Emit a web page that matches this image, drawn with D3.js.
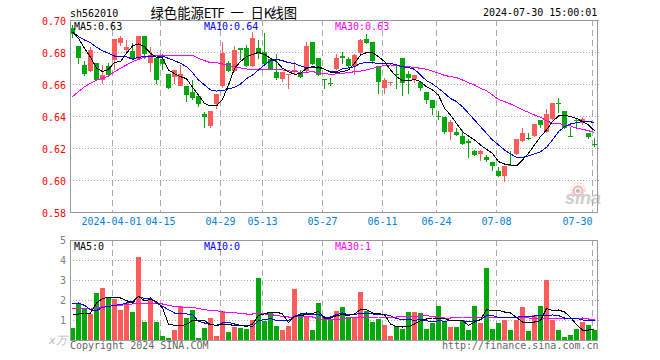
<!DOCTYPE html>
<html>
<head>
<meta charset="utf-8">
<script src="https://cdn.jsdelivr.net/npm/d3@7"></script>
<style>
  html, body { margin: 0; padding: 0; background: #fff; overflow: hidden; }
  svg { display: block; }
  text { font-family: "DejaVu Sans Mono", monospace; font-size: 10px; }
</style>
</head>
<body>
<svg id="chart"></svg>
<script>
// daily candles, oldest first
const open = [.695,.684,.672,.668,.673,.6625,.6715,.675,.6855,.681,.6805,.6755,.690,.673,.676,.6755,.666,.6645,.659,.659,.655,.6525,.641,.634,.6475,.659,.673,.668,.6825,.6825,
  .671,.6825,.680,.6755,.6675,.663,.6655,.6675,.6675,.668,.686,.676,.663,.6605,.6695,.6775,.6755,.671,.6795,.688,.686,.671,.6575,.6605,.6663,.676,.666,.663,.661,.655,
  .650,.640,.6394,.630,.630,.6275,.6245,.618,.6163,.6145,.611,.6056,.6025,.6095,.6163,.6244,.6263,.6275,.6375,.630,.638,.648,.6431,.6275,.6375,.6354,.6294,.6225];
const close = [.691,.676,.666,.681,.6625,.6655,.6655,.688,.689,.683,.6755,.690,.679,.678,.6625,.6725,.6575,.669,.666,.653,.651,.6475,.6395,.643,.654,.6795,.668,.681,.681,.671,
  .689,.679,.6725,.669,.664,.6675,.666,.669,.6645,.684,.6725,.6655,.6628,.660,.676,.676,.671,.678,.6875,.6855,.6745,.661,.6625,.661,.6658,.6605,.664,.6655,.6575,.650,
  .645,.6395,.630,.636,.628,.6225,.623,.6155,.618,.6125,.609,.6025,.609,.609,.6256,.6294,.626,.635,.6344,.6413,.648,.6475,.6325,.627,.637,.6381,.6269,.622];
const high = [.697,.684,.6745,.683,.673,.672,.673,.688,.690,.6875,.6855,.690,.690,.683,.676,.679,.666,.669,.672,.659,.6625,.6525,.6425,.643,.654,.686,.6745,.684,.6825,.6845,
  .6925,.6875,.692,.676,.679,.6675,.666,.674,.669,.686,.686,.676,.663,.664,.679,.680,.677,.6785,.688,.691,.686,.671,.664,.661,.6719,.676,.668,.6655,.661,.655,
  .650,.643,.6394,.6375,.6325,.631,.6255,.619,.619,.6156,.611,.608,.609,.618,.6256,.6325,.6294,.635,.6375,.6444,.648,.651,.6431,.6331,.638,.6394,.6294,.6263];
const low = [.689,.6725,.665,.6675,.662,.660,.665,.669,.684,.679,.675,.675,.6755,.6675,.660,.669,.657,.660,.6585,.649,.650,.6455,.6325,.6325,.6445,.6575,.6675,.6675,.675,.6705,
  .6705,.6755,.671,.66875,.6625,.661,.657,.666,.6635,.6675,.672,.665,.657,.659,.669,.6725,.6705,.6655,.679,.685,.6725,.654,.654,.659,.6569,.6525,.654,.6605,.6555,.6475,
  .6405,.6375,.6288,.625,.6275,.622,.6138,.615,.612,.611,.6056,.6019,.5988,.609,.6156,.6238,.625,.6269,.6325,.6294,.6375,.6419,.6319,.6269,.6319,.6344,.6256,.6206];
const ma5 = [.6927,.6885,.6823,.6767,.67,.6677,.6692,.6735,.674,.6792,.6838,.685,.6833,.6792,.6767,.6765,.6688,.6665,.6646,.6633,.6579,.6531,.6479,.6463,.6463,.6504,.6594,.6698,.674,.6771,
  .6785,.6798,.6785,.676,.674,.6698,.6677,.666,.6667,.6698,.6708,.6704,.6692,.6673,.6671,.6677,.6688,.6729,.6781,.6796,.6796,.6771,.674,.6688,.6646,.6621,.6619,.6629,.6615,.6583,
  .6563,.6531,.6448,.6406,.6354,.6302,.6275,.625,.6219,.6192,.6167,.6115,.61,.6094,.6088,.6125,.6167,.6219,.6271,.6313,.6365,.64,.6406,.6396,.6385,.6365,.6344,.6308];
const ma10 = [.6925,.6896,.6875,.6858,.6829,.6808,.6792,.6775,.6775,.6771,.6754,.6767,.6771,.6771,.6775,.6775,.676,.6746,.6729,.6708,.6671,.6625,.6594,.6563,.6556,.6558,.6569,.6579,.66,.6633,
  .6656,.6688,.6719,.6746,.6754,.6746,.6733,.6729,.6713,.6702,.6702,.6708,.6692,.6677,.6677,.6694,.67,.6708,.6729,.6735,.6733,.6729,.6729,.6729,.6719,.6708,.6702,.6692,.6656,.6621,
  .66,.6573,.6542,.651,.649,.6458,.6417,.6375,.6333,.6292,.625,.6219,.6188,.6163,.6142,.6142,.615,.6163,.6177,.6204,.625,.6302,.6333,.635,.6358,.6365,.6365,.636];
const ma30 = [.6521,.6552,.6583,.6604,.6625,.6635,.665,.6677,.6698,.6719,.674,.6754,.6767,.6775,.6777,.6779,.6779,.6779,.6779,.6779,.6779,.676,.6746,.6733,.6733,.6725,.6715,.6708,.67,.6694,
  .6692,.6692,.6692,.6692,.6692,.6688,.6683,.6677,.6673,.6673,.6677,.6671,.6665,.666,.6663,.6667,.6671,.6677,.6681,.6688,.6698,.6708,.6715,.6719,.6715,.6708,.6708,.6704,.6698,.6692,
  .6681,.6667,.6654,.6646,.664,.6625,.6608,.6594,.6573,.6558,.6531,.6504,.649,.6475,.6458,.6438,.6423,.6406,.6392,.6371,.6354,.6354,.6344,.6338,.6323,.6317,.6308,.6298];

// volume pane, in units of 万
const volume = [.62,1.87,1.57,1.32,2.37,2.62,2.17,2.07,1.52,1.87,1.42,4.17,.92,2.02,.92,.22,.12,.52,1.72,1.12,1.52,.12,.62,1.12,.22,1.47,.42,.67,.62,.57,
  1.02,3.12,.97,1.37,.72,.52,.72,2.57,1.32,1.17,.52,1.87,1.17,1.02,1.47,1.67,1.17,1.17,2.42,1.47,.92,1.07,.77,.22,.72,.57,1.42,1.42,1.37,.57,
  .87,1.72,.92,.67,.67,1.02,.52,1.72,.87,3.62,.57,.87,1.02,.52,1.02,1.67,.47,1.27,1.72,3.02,1.02,.52,.17,.27,.57,.92,.77,.52];
const volMa5 = [1.3,1.3,1.35,1.35,1.85,2.07,2.15,2.15,2.1,1.97,1.85,2.18,1.97,2.02,1.93,1.6,.8,.73,.72,.77,.98,.98,.97,.77,.73,.77,.77,.73,.73,.68,
  .8,1.23,1.3,1.4,1.4,1.3,.88,1.18,1.23,1.27,1.32,1.43,1.1,1.1,1.22,1.27,1.23,1.3,1.52,1.52,1.35,1.32,1.27,.8,.67,.65,.67,.8,.97,1.05,
  1.1,1.1,1.07,.97,.97,.97,.73,.9,1.02,1.52,1.47,1.48,1.4,1.35,1.13,.9,.9,.9,.97,1.57,1.47,1.5,1.4,1.13,.77,.5,.5,.52];
const volMa10 = [1.8,1.85,1.73,1.52,1.47,1.63,1.67,1.73,1.77,1.85,1.93,2.18,2.07,2.1,1.85,1.68,1.52,1.35,1.35,1.3,1.27,.93,.85,.77,.73,.85,.88,.8,.73,.73,
  .68,.97,1.02,1.07,.97,.97,.97,1.18,1.3,1.35,1.27,1.27,1.15,1.15,1.27,1.35,1.27,1.27,1.35,1.35,1.3,1.27,1.27,1.22,1.07,1.02,1.02,.98,1.02,.97,
  .9,.97,.93,.97,.97,.97,.9,.97,1,1.23,1.22,1.13,1.13,1.13,1.13,1.2,1.2,1.2,1.22,1.23,1.25,1.22,1.1,1.1,1.08,1,.97,.97];
const volMa30 = [1.57,1.6,1.57,1.6,1.6,1.67,1.7,1.73,1.73,1.77,1.8,1.85,1.85,1.85,1.85,1.8,1.73,1.68,1.65,1.65,1.65,1.57,1.52,1.47,1.47,1.4,1.38,1.37,1.32,1.3,
  1.3,1.35,1.3,1.27,1.23,1.18,1.15,1.15,1.18,1.18,1.15,1.05,1.02,1,1.02,1.05,1.1,1.13,1.15,1.13,1.1,1.15,1.15,1.15,1.15,1.17,1.18,1.18,1.2,1.22,
  1.17,1.13,1.1,1.1,1.12,1.15,1.15,1.1,1.12,1.15,1.15,1.15,1.13,1.13,1.1,1.12,1.1,1.07,1.07,1.1,1.1,1.07,1.05,1.07,1.07,1.1,1.05,1.05];

const dateIndex = [7, 15, 25, 32, 42, 52, 61, 71, 87];
const dateLabels = ['2024-04-01', '04-15', '04-29', '05-13', '05-27', '06-11', '06-24', '07-08', '07-30'];
const priceTicks = [0.58, 0.60, 0.62, 0.64, 0.66, 0.68, 0.70];
const volumeTicks = [1, 2, 3, 4, 5];

const width = 660;
const height = 360;
const RED = '#ff5b5b';
const GREEN = '#00a80a';
const GRID = '#aaaaaa';

const svg = d3.select('#chart').attr('width', width).attr('height', height);

const x = d3.scaleLinear().domain([0, 88]).range([70, 598]);
const y = d3.scaleLinear().domain([0.58, 0.70]).range([212, 20]);
const yVol = d3.scaleLinear().domain([0, 5]).range([340, 240]);
const mid = i => x(i) + 2.5;

// sina watermark sits under everything
const logo = svg.append('g').attr('opacity', 0.75);
logo.append('circle').attr('cx', 578).attr('cy', 191).attr('r', 4.5)
  .attr('fill', 'none').attr('stroke', '#f4a6a6').attr('stroke-width', 2.5);
logo.append('circle').attr('cx', 578).attr('cy', 190).attr('r', 7)
  .attr('fill', 'none').attr('stroke', '#f4a6a6').attr('stroke-dasharray', '2,1.5');
logo.append('circle').attr('cx', 578).attr('cy', 191).attr('r', 2).attr('fill', '#999');
logo.append('text').attr('x', 565).attr('y', 204)
  .style('font-family', '"Liberation Sans"').style('font-size', '18px')
  .style('font-weight', 'bold').style('font-style', 'italic')
  .attr('fill', '#bdbdbd').text('sina');

// grid lines, both panes
const grid = svg.append('g').attr('shape-rendering', 'crispEdges');
grid.selectAll('.price-grid').data(priceTicks.slice(1, -1).concat([0.70]))
  .enter().append('line')
  .attr('x1', 70).attr('x2', 600)
  .attr('y1', d => y(d) + 0.5).attr('y2', d => y(d) + 0.5)
  .attr('stroke', GRID).attr('stroke-dasharray', '1,2');
grid.selectAll('.vol-grid').data(volumeTicks.slice(0, -1))
  .enter().append('line')
  .attr('x1', 70).attr('x2', 600)
  .attr('y1', d => yVol(d) + 0.5).attr('y2', d => yVol(d) + 0.5)
  .attr('stroke', GRID).attr('stroke-dasharray', '1,2');
[[20, 212], [240, 340]].forEach(pane => {
  grid.selectAll(null).data(dateIndex)
    .enter().append('line')
    .attr('x1', d => x(d) + 0.5).attr('x2', d => x(d) + 0.5)
    .attr('y1', pane[0]).attr('y2', pane[1])
    .attr('stroke', GRID).attr('stroke-dasharray', '6,4');
});

// candles
const candles = svg.append('g').attr('shape-rendering', 'crispEdges');
const isUp = i => close[i] >= open[i];
candles.selectAll('.wick').data(d3.range(open.length))
  .enter().append('line')
  .attr('x1', mid).attr('x2', mid)
  .attr('y1', i => y(high[i])).attr('y2', i => y(low[i]))
  .attr('stroke', i => isUp(i) ? RED : GREEN);
candles.selectAll('.body').data(d3.range(open.length))
  .enter().append('rect')
  .attr('x', i => x(i)).attr('width', 5)
  .attr('y', i => y(Math.max(open[i], close[i])))
  .attr('height', i => Math.max(1, Math.abs(y(open[i]) - y(close[i]))))
  .attr('fill', i => isUp(i) ? RED : GREEN);

// volume bars
svg.append('g').attr('shape-rendering', 'crispEdges')
  .selectAll('rect').data(volume)
  .enter().append('rect')
  .attr('x', (d, i) => x(i)).attr('width', 5)
  .attr('y', d => yVol(d))
  .attr('height', d => yVol(0) - yVol(d) + 1)
  .attr('fill', (d, i) => isUp(i) ? RED : GREEN);

// moving averages
const priceLine = d3.line().x((d, i) => mid(i)).y(d => y(d));
const volLine = d3.line().x((d, i) => mid(i)).y(d => yVol(d));
const maLines = svg.append('g').attr('fill', 'none').attr('shape-rendering', 'crispEdges');
[[ma30, '#ff00ff'], [ma10, '#0000ff'], [ma5, '#000000']].forEach(s => {
  maLines.append('path').attr('d', priceLine(s[0])).attr('stroke', s[1]);
});
[[volMa30, '#ff00ff'], [volMa10, '#0000ff'], [volMa5, '#000000']].forEach(s => {
  maLines.append('path').attr('d', volLine(s[0])).attr('stroke', s[1]);
});

// frames
svg.append('g').attr('shape-rendering', 'crispEdges').attr('fill', 'none').attr('stroke', '#999')
  .selectAll('rect').data([[20, 212], [240, 340]])
  .enter().append('rect')
  .attr('x', 70.5).attr('width', 527)
  .attr('y', d => d[0] + 0.5).attr('height', d => d[1] - d[0]);

// axes
const yAxis = d3.axisLeft(y).tickValues(priceTicks).tickSize(0).tickPadding(4).tickFormat(d3.format('.2f'));
const gy = svg.append('g').attr('transform', 'translate(70,1)').call(yAxis);
gy.select('.domain').remove();
gy.selectAll('text').attr('fill', '#ff0000');

const volAxis = d3.axisLeft(yVol).tickValues(volumeTicks).tickSize(0).tickPadding(4).tickFormat(d3.format('d'));
const gv = svg.append('g').attr('transform', 'translate(70,0)').call(volAxis);
gv.select('.domain').remove();
gv.selectAll('text').attr('fill', '#808080');

const xAxis = d3.axisBottom(x).tickValues(dateIndex).tickSize(0).tickPadding(0)
  .tickFormat((d, i) => dateLabels[i]);
const gx = svg.append('g').attr('transform', 'translate(0,218)').call(xAxis);
gx.select('.domain').remove();
gx.selectAll('text').attr('fill', '#0080e0');
gx.selectAll('text').filter((d, i) => i === 0).attr('dx', -1);
gx.selectAll('text').filter((d, i) => i === dateLabels.length - 1)
  .attr('text-anchor', 'end');

// labels
const labels = [
  ['sh562010', 70, 17, '#000'],
  ['2024-07-30 15:00:01', 483, 16, '#000'],
  ['MA5:0.63', 74, 30, '#000'],
  ['MA10:0.64', 204, 30, '#0000ff'],
  ['MA30:0.63', 335, 30, '#ff00ff'],
  ['MA5:0', 74, 250, '#000'],
  ['MA10:0', 204, 250, '#0000ff'],
  ['MA30:1', 335, 250, '#ff00ff'],
  ['Copyright 2024 SINA.COM', 70, 349, '#666'],
  ['http://finance.sina.com.cn', 442, 349, '#666']
];
svg.selectAll('.label').data(labels)
  .enter().append('text')
  .attr('x', d => d[1]).attr('y', d => d[2]).attr('fill', d => d[3])
  .text(d => d[0]);

// title uses full width CJK cells and half width latin cells
const titleChars = Array.from('绿色能源ETF 一 日K线图');
const titleCell = 13.33;
let titleX = 150.5;
const titleXs = titleChars.map(c => {
  const at = titleX;
  titleX += c.charCodeAt(0) < 128 ? titleCell / 2 : titleCell;
  return at;
});
svg.append('text').attr('x', titleXs.join(' ')).attr('y', 18)
  .style('font-family', '"Noto Sans CJK SC"').style('font-size', '13.33px')
  .attr('fill', '#000').text(titleChars.join(''));

svg.append('text').attr('x', 49).attr('y', 344)
  .style('font-size', '11px').style('font-style', 'italic').attr('fill', '#bbb').text('x万');
</script>
</body>
</html>
